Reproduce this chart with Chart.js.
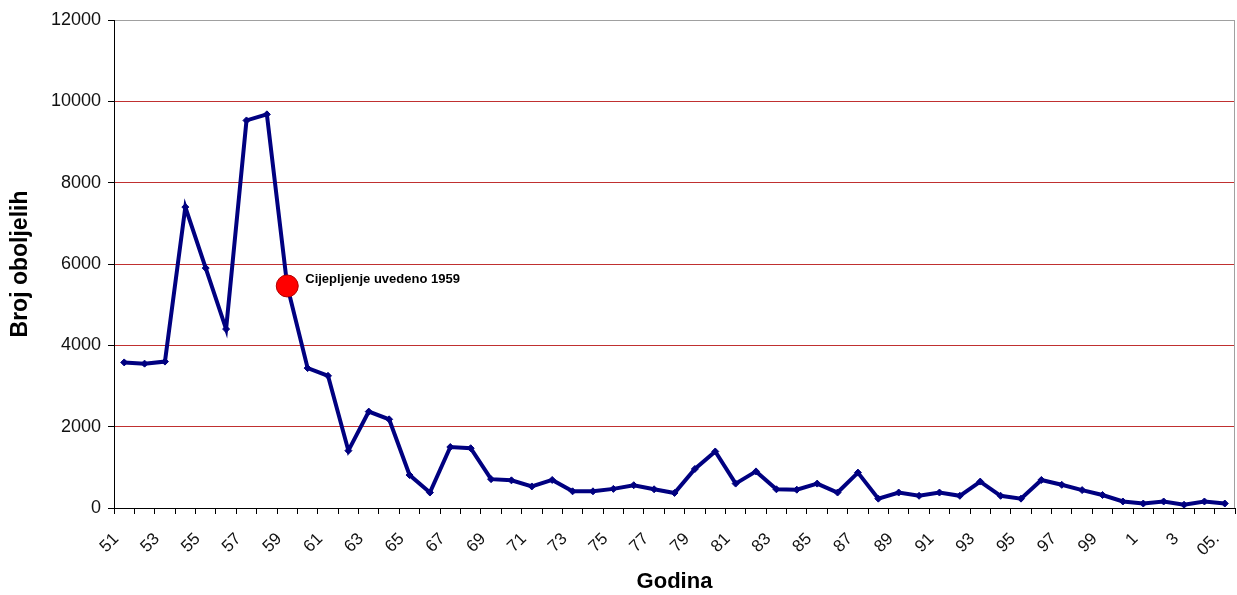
<!DOCTYPE html>
<html>
<head>
<meta charset="utf-8">
<script src="https://cdn.jsdelivr.net/npm/chart.js@4"></script>
<style>
html,body{margin:0;padding:0;background:#fff;}
#wrap{width:1237px;height:595px;position:relative;}
</style>
</head>
<body>
<div id="wrap"><canvas id="c" width="1237" height="595"></canvas></div>
<script>
const years = ["51","52","53","54","55","56","57","58","59","60","61","62","63","64","65","66","67","68","69","70","71","72","73","74","75","76","77","78","79","80","81","82","83","84","85","86","87","88","89","90","91","92","93","94","95","96","97","98","99","0","1","2","3","4","05."];
const cases = [3580,3550,3600,7400,5900,4400,9530,9680,5460,3440,3250,1410,2370,2180,810,380,1500,1470,710,680,530,690,410,410,470,560,460,370,960,1390,600,900,460,450,600,380,870,230,380,300,380,300,650,300,230,690,570,440,320,160,110,160,80,160,110];
const yTicks = [0,2000,4000,6000,8000,10000,12000];
const vaccineIndex = 8;
const vaccineLabel = "Cijepljenje uvedeno 1959";
const yTitle = "Broj oboljelih";
const xTitle = "Godina";

const vaccineData = cases.map((v,i)=> i===vaccineIndex ? v : null);
const FONT = "Arial, 'Liberation Sans', sans-serif";

const extras = {
  id:'extras',
  afterDraw(chart){
    const ctx = chart.ctx, a = chart.chartArea;
    ctx.save();
    ctx.strokeStyle = '#a0a0a0';
    ctx.lineWidth = 1;
    ctx.beginPath();
    ctx.moveTo(a.right-0.5, a.top);
    ctx.lineTo(a.right-0.5, a.bottom);
    ctx.stroke();
    const meta = chart.getDatasetMeta(1);
    const pt = meta.data[vaccineIndex];
    ctx.fillStyle = '#000';
    ctx.font = "bold 13px " + FONT;
    ctx.textBaseline = 'middle';
    ctx.textAlign = 'left';
    ctx.fillText(vaccineLabel, pt.x + 18, pt.y - 7);
    ctx.restore();
  }
};

new Chart(document.getElementById('c'), {
  type:'line',
  data:{
    labels: years,
    datasets:[
      {
        data: cases,
        borderColor:'#000080',
        backgroundColor:'#000080',
        borderWidth:4,
        pointStyle:'rectRot',
        pointRadius:3.5,
        pointBorderWidth:1,
        tension:0,
        clip:false,
        order:2
      },
      {
        data: vaccineData,
        borderColor:'#b00000',
        backgroundColor:'#ff0000',
        pointRadius:(c)=> c.dataIndex===vaccineIndex ? 11 : 0,
        pointBorderWidth:1,
        showLine:false,
        clip:false,
        order:1
      }
    ]
  },
  options:{
    responsive:false,
    animation:false,
    layout:{autoPadding:false,padding:{top:20,right:2,left:0,bottom:0}},
    plugins:{legend:{display:false},tooltip:{enabled:false}},
    scales:{
      x:{
        type:'category',
        offset:true,
        grid:{offset:true,drawOnChartArea:false,drawTicks:true,tickLength:6,tickColor:'#000'},
        border:{color:'#000',width:1},
        ticks:{
          autoSkip:false,maxRotation:45,minRotation:45,color:'#111',padding:15,labelOffset:-8,
          font:{family:FONT,size:17},
          callback:function(v,i){return i%2===0 ? years[i] : '';}
        },
        title:{display:true,text:xTitle,color:'#000',font:{family:FONT,size:22,weight:'bold'},padding:{top:0,bottom:0}},
        afterFit(s){ s.height=87; s.paddingRight=0; s.paddingLeft=0; }
      },
      y:{
        min:0,max:12000,
        afterBuildTicks(s){s.ticks = yTicks.map(v=>({value:v}));},
        grid:{
          color:(c)=> c.tick && c.tick.value===12000 ? '#a0a0a0' : (c.tick && c.tick.value===0 ? '#000' : '#c03030'),
          lineWidth:1,tickLength:6,tickColor:'#000',drawTicks:true
        },
        border:{color:'#000',width:1},
        ticks:{color:'#111',padding:7,font:{family:FONT,size:18},callback:(v)=>String(v)},
        title:{display:true,text:yTitle,color:'#000',font:{family:FONT,size:23,weight:'bold'},padding:{top:7,bottom:0}},
        afterFit(s){ s.width=114; }
      }
    }
  },
  plugins:[extras]
});
</script>
</body>
</html>
